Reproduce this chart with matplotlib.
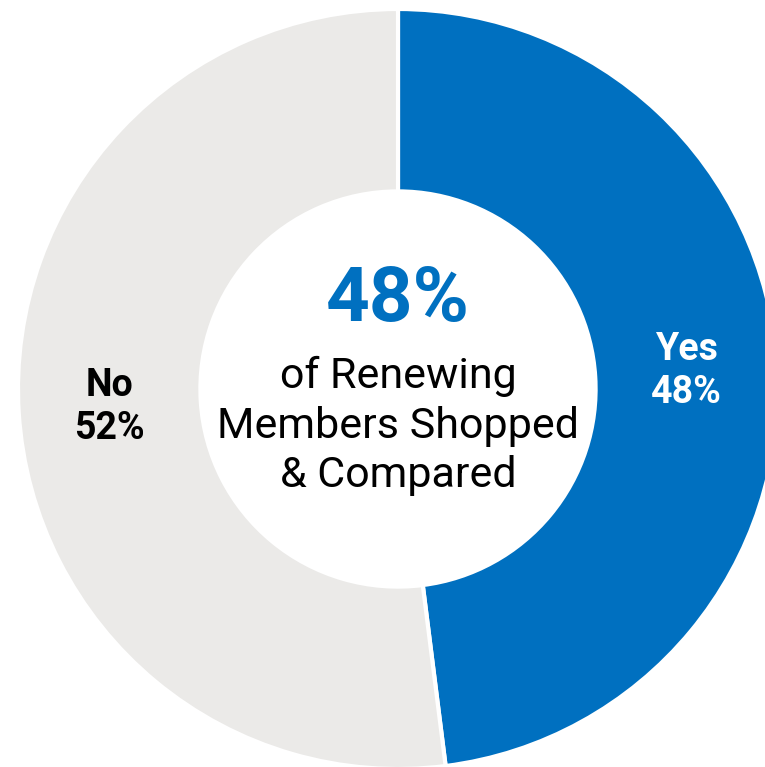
import matplotlib.pyplot as plt

# Renewal survey: did renewing members shop around?
categories = ["Yes", "No"]
shares = [48, 52]
colors = ["#0070C0", "#EBEAE8"]
label_colors = ["white", "black"]

plt.rcParams["font.family"] = ["Roboto", "DejaVu Sans"]

W, H = 765, 767
fig = plt.figure(figsize=(W / 100, H / 100), dpi=100)
ax = fig.add_axes([0, 0, 1, 1])

cx, cy = 398, H - 389
R = 380

labels = [f"{c}\n{v}%" for c, v in zip(categories, shares)]
wedges, texts = ax.pie(
    shares,
    labels=labels,
    colors=colors,
    startangle=90,
    counterclock=False,
    center=(cx, cy),
    radius=R,
    labeldistance=0.76,
    wedgeprops=dict(width=R * 0.48, edgecolor="white", linewidth=3),
    frame=True,
)
ax.set_xlim(0, W)
ax.set_ylim(0, H)
ax.set_aspect("equal")
ax.axis("off")

for t, c in zip(texts, label_colors):
    t.set_ha("center")
    t.set_va("center")
    t.set_color(c)
    t.set_fontsize(27)
    t.set_fontweight("bold")
    t.set_linespacing(1.2)

# Centre callout
yes_share = shares[categories.index("Yes")]
ax.text(cx, H - 301, f"{yes_share}%", ha="center", va="center",
        fontsize=55, fontweight="bold", color="#0070C0")
ax.text(cx, H - 426, "of Renewing\nMembers Shopped\n& Compared",
        ha="center", va="center", fontsize=31, color="black",
        linespacing=1.26)

fig.savefig("out.png", dpi=100)
